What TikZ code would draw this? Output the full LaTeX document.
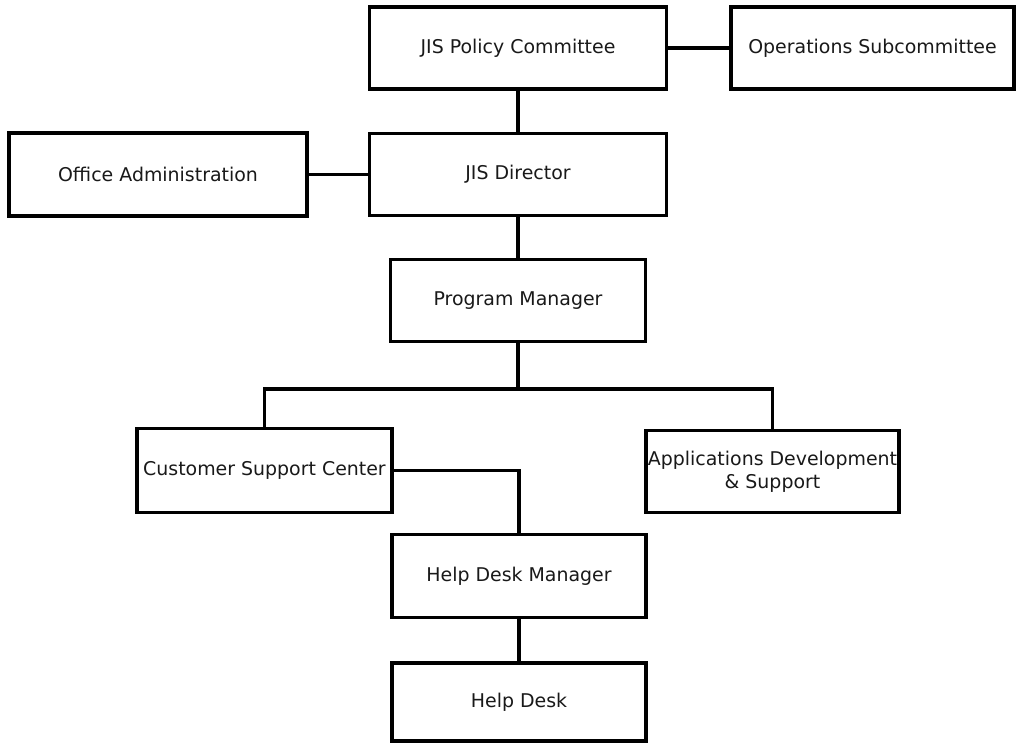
\documentclass[tikz,border=0pt]{standalone}
\usepackage{fontspec}
\setmainfont{DejaVu Sans}
\begin{document}
\begin{tikzpicture}[x=0.75pt,y=-0.75pt,
  bx/.style 2 args={draw=black,line width=2.4pt,fill=white,inner sep=0pt,
    minimum width=#1*0.75pt,minimum height=#2*0.75pt,
    font=\fontsize{14.2}{17}\selectfont,text=black!90,align=center},
  conn/.style={draw=black,line width=2.4pt},
  thinconn/.style={draw=black,line width=1.7pt},
  boldconn/.style={draw=black,line width=3pt}]
\useasboundingbox[fill=white] (0,0) rectangle (1017,744);
\node[bx={297}{82}] (policy) at (518,48) {JIS Policy Committee};
\node[bx={283}{82}] (ops) at (872.5,48) {Operations Subcommittee};
\node[bx={297}{82}] (director) at (518,174.5) {JIS Director};
\node[bx={298}{83}] (office) at (158,174.5) {Office Administration};
\node[bx={255}{82}] (pm) at (518,300.5) {Program Manager};
\node[bx={255}{84}] (csc) at (264.5,470.5) {Customer Support Center};
\node[bx={253}{82}] (ads) at (772.5,471.5) {Applications Development\\\& Support};
\node[bx={254}{83}] (hdm) at (519,576) {Help Desk Manager};
\node[bx={254}{78}] (hd) at (519,702) {Help Desk};
\coordinate (bus) at (518,389);
\path[boldconn] (policy.east) -- (ops.west);
\path[conn] (policy.south) -- (director.north);
\path[thinconn] (office.east) -- (director.west);
\path[conn] (director.south) -- (pm.north);
\path[conn] (pm.south) -- (bus);
\path[conn] (csc.north) |- (bus) -| (ads.north);
\path[conn] (csc.east) -| (hdm.north);
\path[conn] (hdm.south) -- (hd.north);
\end{tikzpicture}
\end{document}
